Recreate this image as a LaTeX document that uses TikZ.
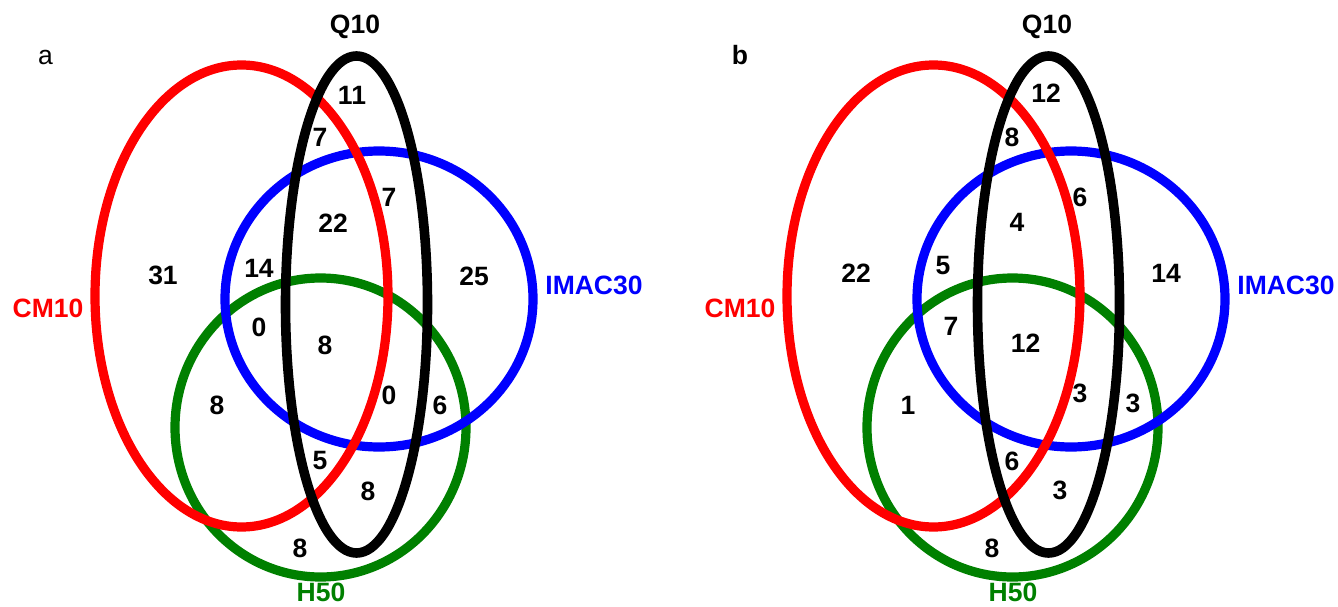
\documentclass[tikz,border=0pt]{standalone}
\usepackage{fontspec}
\setmainfont{Liberation Sans}
\definecolor{cmred}{RGB}{255,0,0}
\definecolor{imblue}{RGB}{0,0,255}
\definecolor{hgreen}{RGB}{0,128,0}
\tikzset{
  setline/.style={line width=9.2pt},
  num/.style={font=\bfseries\fontsize{26.5}{30}\selectfont, inner sep=0pt, anchor=center},
  setlabel/.style={font=\bfseries\fontsize{26.5}{30}\selectfont, inner sep=0pt, anchor=center},
  venn/.pic={
    \draw[setline, hgreen] (320.5,427.5) ellipse [x radius=145.5pt, y radius=149.5pt];
    \draw[setline, imblue] (379,299) ellipse [x radius=154pt, y radius=148pt];
    \draw[setline, cmred] (241.5,296) ellipse [x radius=146.5pt, y radius=231pt];
    \draw[setline, black, line width=9.6pt] (356.5,304.5) ellipse [x radius=71pt, y radius=248.5pt];
    \node[setlabel] (-q) at (355,27) {Q10};
    \node[setlabel, text=cmred] (-cm) at (48,308) {CM10};
    \node[setlabel, text=imblue] (-im) at (594,285) {IMAC30};
    \node[setlabel, text=hgreen] (-h) at (321,592.5) {H50};
  }
}
\begin{document}
\begin{tikzpicture}[x=1pt,y=-1pt]
\useasboundingbox (0,0) rectangle (1338,607);
% panel a
\pic (pa) at (0,0) {venn};
\node[inner sep=0pt, font=\fontsize{26.5}{30}\selectfont] (la) at (45.5,57.5) {a};
\node[num] (a1) at (352,95) {11};
\node[num] (a2) at (320,137) {7};
\node[num] (a3) at (389,197) {7};
\node[num] (a4) at (333,223) {22};
\node[num] (a5) at (163,275) {31};
\node[num] (a6) at (259,268) {14};
\node[num] (a7) at (474,276) {25};
\node[num] (a8) at (259,327) {0};
\node[num] (a9) at (325,345) {8};
\node[num] (a10) at (217,405) {8};
\node[num] (a11) at (389,395) {0};
\node[num] (a12) at (440,405) {6};
\node[num] (a13) at (320,461) {5};
\node[num] (a14) at (368,491) {8};
\node[num] (a15) at (300,548) {8};
% panel b
\pic (pb) at (692,0) {venn};
\node[num] (lb) at (740,55) {b};
\node[num] (b1) at (1046,93) {12};
\node[num] (b2) at (1012,137) {8};
\node[num] (b3) at (1080,197) {6};
\node[num] (b4) at (1017,222) {4};
\node[num] (b5) at (856,273) {22};
\node[num] (b6) at (943,266) {5};
\node[num] (b7) at (1166,273) {14};
\node[num] (b8) at (951,326) {7};
\node[num] (b9) at (1025.5,343) {12};
\node[num] (b10) at (908,405) {1};
\node[num] (b11) at (1080,393) {3};
\node[num] (b12) at (1133,403) {3};
\node[num] (b13) at (1012,461) {6};
\node[num] (b14) at (1060,490) {3};
\node[num] (b15) at (992,548) {8};
\end{tikzpicture}
\end{document}
